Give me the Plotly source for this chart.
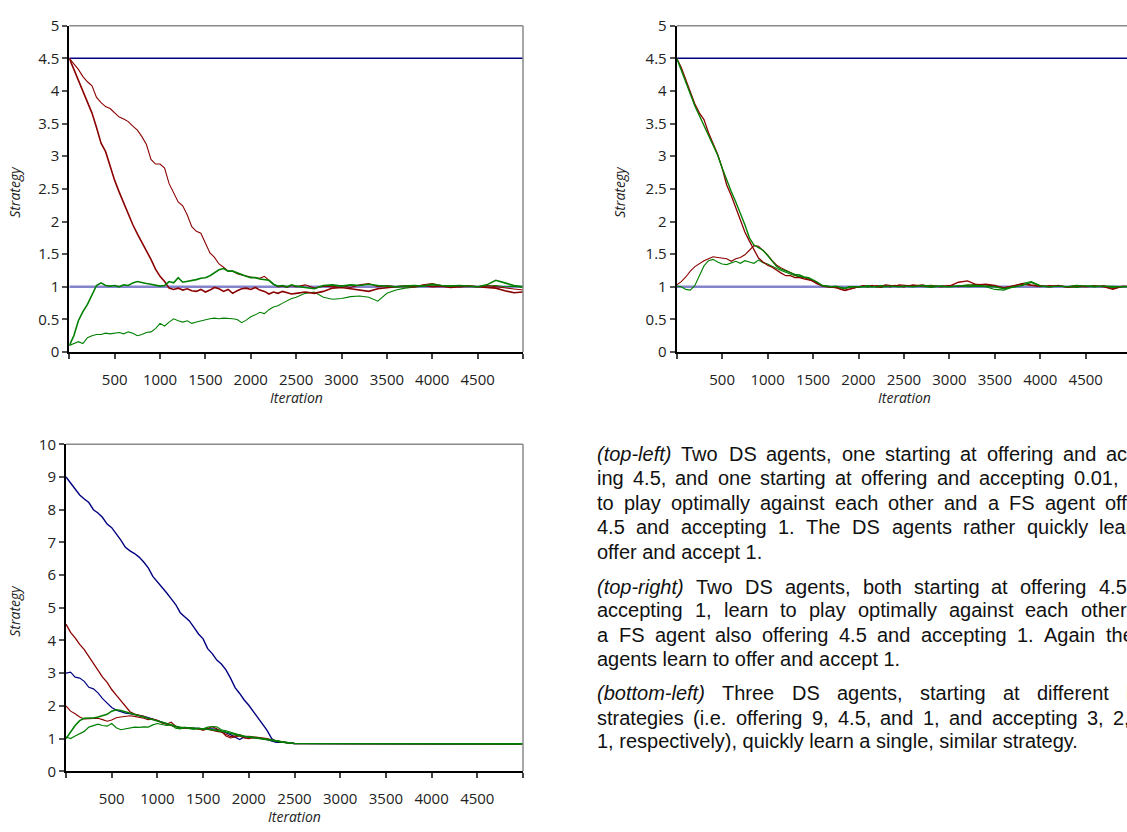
import plotly.graph_objects as go

W, H = 1127, 832

# ---------------- data ----------------
ITER = list(range(0, 2501, 50)) + list(range(2600, 5001, 100))
ITER_BL = list(range(0, 2501, 50)) + [5000]

FS_X = [0, 5000]
FS_OFFER = 4.5
FS_ACCEPT = 1.0

# top-left
TL_RED_FAST = [4.50, 4.33, 4.16, 3.98, 3.82, 3.66, 3.44, 3.20, 3.07, 2.85,
               2.63, 2.45, 2.28, 2.10, 1.95, 1.81, 1.68, 1.56, 1.42, 1.27,
               1.16, 1.08, 0.98, 0.96, 0.98, 0.95, 0.97, 0.94, 0.93, 0.96,
               0.92, 0.95, 0.99, 0.97, 0.93, 0.96, 0.90, 0.94, 0.97, 0.98,
               0.96, 0.99, 0.95, 0.93, 0.89, 0.92, 0.90, 0.93, 0.91, 0.89,
               0.90,
               0.92, 0.90, 0.93, 0.98, 0.99, 0.97, 0.95, 0.93, 0.97, 0.99,
               1.00, 1.01, 1.00, 1.02, 1.00, 1.01, 0.99, 1.00, 1.01, 1.00,
               0.99, 0.98, 0.94, 0.91, 0.92]
TL_RED_SLOW = [4.50, 4.42, 4.33, 4.22, 4.14, 4.08, 3.90, 3.82, 3.76, 3.73,
               3.66, 3.60, 3.57, 3.53, 3.46, 3.40, 3.30, 3.18, 2.95, 2.88,
               2.88, 2.82, 2.58, 2.45, 2.30, 2.24, 2.10, 1.92, 1.85, 1.82,
               1.66, 1.52, 1.45, 1.35, 1.30, 1.24, 1.24, 1.20, 1.18, 1.16,
               1.15, 1.14, 1.13, 1.16, 1.10, 1.04, 1.00, 1.01, 0.99, 1.02,
               1.00,
               1.03, 0.98, 1.01, 1.00, 1.02, 0.99, 1.03, 1.05, 1.00, 1.02,
               1.00, 1.01, 1.00, 1.03, 1.05, 1.02, 1.01, 1.00, 1.01, 1.00,
               1.02, 1.00, 0.98, 0.96, 0.95]
TL_GREEN_FAST = [0.10, 0.25, 0.48, 0.62, 0.73, 0.88, 1.02, 1.06, 1.02, 1.01,
                 1.02, 1.00, 1.03, 1.02, 1.06, 1.08, 1.06, 1.05, 1.04, 1.02,
                 1.01, 1.02, 1.08, 1.06, 1.14, 1.07, 1.08, 1.10, 1.11, 1.13,
                 1.14, 1.17, 1.21, 1.26, 1.28, 1.24, 1.24, 1.21, 1.19, 1.16,
                 1.14, 1.14, 1.12, 1.11, 1.10, 1.04, 1.01, 1.02, 1.00, 1.03,
                 1.01,
                 0.99, 0.97, 1.02, 1.03, 1.01, 1.03, 1.02, 1.04, 1.02, 1.01,
                 1.00, 1.01, 1.02, 1.01, 1.04, 1.02, 1.01, 1.02, 1.01, 1.00,
                 1.03, 1.10, 1.06, 1.02, 1.00]
TL_GREEN_SLOW = [0.10, 0.13, 0.16, 0.13, 0.22, 0.25, 0.27, 0.27, 0.29, 0.28,
                 0.29, 0.30, 0.28, 0.31, 0.29, 0.25, 0.27, 0.30, 0.31, 0.36,
                 0.44, 0.40, 0.46, 0.51, 0.48, 0.46, 0.48, 0.44, 0.46, 0.48,
                 0.49, 0.51, 0.52, 0.51, 0.52, 0.52, 0.51, 0.50, 0.45, 0.49,
                 0.54, 0.57, 0.61, 0.59, 0.65, 0.69, 0.71, 0.75, 0.79, 0.82,
                 0.84,
                 0.90, 0.92, 0.84, 0.81, 0.82, 0.85, 0.86, 0.84, 0.78, 0.90,
                 0.95, 0.98, 1.00, 1.01, 1.03, 1.01, 1.02, 1.00, 1.01, 1.00,
                 1.01, 1.02, 1.00, 1.01, 0.99]

# top-right
TR_RED_DOWN = [4.50, 4.36, 4.17, 3.98, 3.80, 3.66, 3.56, 3.36, 3.19, 3.03,
               2.82, 2.56, 2.40, 2.21, 2.02, 1.84, 1.70, 1.57, 1.44, 1.38,
               1.33, 1.30, 1.25, 1.21, 1.17, 1.17, 1.14, 1.14, 1.12, 1.11,
               1.09, 1.05, 1.01, 1.00, 0.99, 1.00, 0.96, 0.95, 0.97, 0.99,
               1.00, 1.01, 1.00, 1.02, 1.00, 1.00, 1.01, 1.00, 1.02, 1.01,
               1.00,
               1.03, 1.01, 1.02, 1.00, 1.01, 1.07, 1.09, 1.03, 1.04, 1.02,
               0.98, 1.02, 1.05, 1.03, 1.01, 1.00, 1.02, 0.99, 1.01, 1.00,
               1.01, 1.00, 0.96, 1.01, 1.00]
TR_GREEN_DOWN = [4.50, 4.31, 4.12, 3.94, 3.77, 3.62, 3.47, 3.32, 3.18, 3.02,
                 2.82, 2.63, 2.46, 2.30, 2.13, 1.95, 1.75, 1.64, 1.60, 1.56,
                 1.48, 1.39, 1.31, 1.27, 1.24, 1.22, 1.19, 1.18, 1.15, 1.14,
                 1.11, 1.07, 1.02, 1.01, 1.00, 1.01, 0.99, 0.98, 1.00, 1.00,
                 1.01, 1.00, 1.01, 1.00, 1.00, 1.02, 1.00, 1.01, 1.00, 1.00,
                 1.01,
                 1.00, 1.02, 1.01, 1.00, 1.00, 1.01, 1.03, 1.02, 1.01, 1.00,
                 0.97, 1.00, 1.02, 1.07, 1.01, 1.00, 1.01, 1.00, 1.02, 1.01,
                 1.00, 1.01, 1.00, 1.00, 1.01]
TR_RED_UP = [1.03, 1.08, 1.15, 1.24, 1.31, 1.36, 1.40, 1.43, 1.46, 1.45,
             1.44, 1.43, 1.39, 1.43, 1.45, 1.49, 1.56, 1.63, 1.62, 1.56,
             1.49, 1.40, 1.33, 1.29, 1.26, 1.22, 1.18, 1.15, 1.14, 1.12,
             1.08, 1.04, 1.02, 1.01, 1.00, 0.98, 0.97, 0.94, 0.96, 0.99,
             1.00, 1.02, 1.01, 1.00, 1.02, 1.01, 1.03, 1.02, 1.01, 1.03,
             1.02,
             1.01, 1.03, 1.00, 1.01, 1.02, 1.00, 1.02, 1.04, 1.03, 1.01,
             0.99, 1.01, 1.04, 1.02, 1.00, 1.02, 1.01, 1.00, 1.02, 1.01,
             1.00, 1.02, 0.97, 1.00, 1.01]
TR_GREEN_UP = [1.01, 1.00, 0.96, 0.95, 1.02, 1.17, 1.32, 1.40, 1.42, 1.38,
               1.35, 1.34, 1.37, 1.39, 1.36, 1.40, 1.38, 1.36, 1.41, 1.37,
               1.35, 1.31, 1.28, 1.25, 1.22, 1.20, 1.17, 1.16, 1.15, 1.13,
               1.10, 1.06, 1.02, 1.01, 1.00, 0.99, 0.98, 0.97, 0.99, 1.00,
               0.99, 1.00, 1.02, 1.01, 1.00, 0.99, 1.01, 1.00, 1.01, 1.00,
               1.00,
               1.02, 1.00, 0.99, 1.01, 1.00, 1.02, 1.00, 1.01, 1.00, 0.96,
               0.95, 1.00, 1.05, 1.08, 1.02, 1.00, 1.01, 1.00, 0.99, 1.01,
               1.02, 1.00, 0.99, 1.00, 1.00]

# bottom-left
BL_BLUE_HIGH = [9.00, 8.82, 8.65, 8.45, 8.33, 8.22, 8.00, 7.90, 7.76, 7.56,
                7.45, 7.27, 7.07, 6.85, 6.74, 6.66, 6.55, 6.40, 6.22, 5.96,
                5.80, 5.62, 5.46, 5.28, 5.10, 4.85, 4.72, 4.60, 4.40, 4.20,
                4.05, 3.75, 3.60, 3.40, 3.28, 3.10, 2.85, 2.56, 2.38, 2.18,
                2.02, 1.82, 1.62, 1.44, 1.25, 1.00, 0.90, 0.90, 0.88, 0.86,
                0.85, 0.84]
BL_BLUE_LOW = [3.00, 3.03, 2.88, 2.85, 2.75, 2.57, 2.52, 2.40, 2.22, 2.10,
               1.95, 1.87, 1.82, 1.78, 1.76, 1.74, 1.72, 1.68, 1.64, 1.60,
               1.55, 1.50, 1.46, 1.40, 1.36, 1.34, 1.33, 1.33, 1.32, 1.31,
               1.30, 1.31, 1.30, 1.28, 1.24, 1.18, 1.12, 1.05, 0.97, 1.05,
               1.04, 1.03, 1.02, 1.00, 0.97, 0.92, 0.88, 0.89, 0.87, 0.86,
               0.85, 0.84]
BL_RED_HIGH = [4.50, 4.25, 4.08, 3.88, 3.72, 3.50, 3.28, 3.07, 2.88, 2.72,
               2.50, 2.33, 2.17, 1.98, 1.82, 1.75, 1.72, 1.68, 1.62, 1.60,
               1.56, 1.48, 1.44, 1.41, 1.38, 1.33, 1.32, 1.33, 1.31, 1.29,
               1.27, 1.29, 1.25, 1.22, 1.20, 1.14, 1.06, 1.08, 1.12, 1.06,
               1.07, 1.05, 1.04, 1.02, 1.00, 0.96, 0.93, 0.90, 0.88, 0.86,
               0.85, 0.84]
BL_RED_LOW = [2.00, 1.84, 1.76, 1.66, 1.60, 1.61, 1.60, 1.62, 1.58, 1.53,
              1.57, 1.64, 1.66, 1.68, 1.70, 1.68, 1.66, 1.62, 1.58, 1.60,
              1.54, 1.48, 1.44, 1.50, 1.38, 1.34, 1.33, 1.32, 1.31, 1.30,
              1.26, 1.32, 1.36, 1.30, 1.22, 1.08, 1.02, 1.05, 1.08, 1.02,
              1.00, 1.03, 1.02, 1.00, 0.98, 0.95, 0.92, 0.90, 0.88, 0.86,
              0.85, 0.84]
BL_GREEN_HIGH = [1.00, 1.20, 1.40, 1.55, 1.62, 1.63, 1.63, 1.66, 1.70, 1.74,
                 1.84, 1.88, 1.86, 1.82, 1.78, 1.74, 1.70, 1.66, 1.62, 1.58,
                 1.53, 1.48, 1.44, 1.40, 1.36, 1.34, 1.34, 1.33, 1.32, 1.31,
                 1.31, 1.29, 1.27, 1.25, 1.23, 1.20, 1.16, 1.12, 1.09, 1.07,
                 1.05, 1.04, 1.03, 1.01, 0.99, 0.96, 0.93, 0.90, 0.88, 0.86,
                 0.85, 0.84]
BL_GREEN_LOW = [1.05, 1.00, 1.08, 1.15, 1.22, 1.35, 1.40, 1.44, 1.40, 1.38,
                1.46, 1.33, 1.27, 1.30, 1.32, 1.35, 1.34, 1.36, 1.35, 1.42,
                1.46, 1.44, 1.40, 1.42, 1.32, 1.30, 1.34, 1.30, 1.28, 1.32,
                1.30, 1.35, 1.37, 1.36, 1.27, 1.24, 1.20, 1.14, 1.10, 1.07,
                1.06, 1.04, 1.03, 1.02, 0.99, 0.96, 0.93, 0.90, 0.88, 0.86,
                0.85, 0.84]

X_TICKVALS = list(range(0, 5001, 500))
X_TICKTEXT = [""] + [str(v) for v in range(500, 4501, 500)] + [""]
Y_TICKS_TOP = [0, 0.5, 1, 1.5, 2, 2.5, 3, 3.5, 4, 4.5, 5]
Y_TICKS_BL = list(range(0, 11))

# caption lines: (italic lead, rest of line, justified?)
CAPTION_PARAS = [
    [("(top-left)", "Two DS agents, one starting at offering and accept-", True),
     ("", "ing 4.5, and one starting at offering and accepting 0.01, learn", True),
     ("", "to play optimally against each other and a FS agent offering", True),
     ("", "4.5 and accepting 1. The DS agents rather quickly learn to", True),
     ("", "offer and accept 1.", False)],
    [("(top-right)", "Two DS agents, both starting at offering 4.5 and", True),
     ("", "accepting 1, learn to play optimally against each other and", True),
     ("", "a FS agent also offering 4.5 and accepting 1. Again the DS", True),
     ("", "agents learn to offer and accept 1.", False)],
    [("(bottom-left)", "Three DS agents, starting at different initial", True),
     ("", "strategies (i.e. offering 9, 4.5, and 1, and accepting 3, 2, and", True),
     ("", "1, respectively), quickly learn a single, similar strategy.", False)],
]
CAPTION_Y = [[454, 479, 504, 529, 554], [590, 614, 639, 664], [699, 724, 748]]

# ---------------- styling ----------------
RED = "#8b0000"
GREEN = "#008000"
BLUE = "#000080"
FS_ONE = "#8484cc"
TICKFONT = dict(family="Open Sans", size=15, color="#222222")
TITLEFONT = dict(family="Open Sans", size=14, color="#222222")
CAPFONT = dict(family="Liberation Sans", size=20, color="#111111")
CAP_SIZE = 20
CAP_X0 = 597.0      # left edge of caption text (px)
CAP_R = 1172.0      # right margin of the justified column (px, beyond view)
ANN_PAD = 2.0       # annotation box padding before glyphs

# Arial / Liberation Sans advance widths (1/1000 em)
AW = {' ': 278, '(': 333, ')': 333, ',': 278, '-': 333, '.': 278, ':': 278,
      '0': 556, '1': 556, '2': 556, '3': 556, '4': 556, '5': 556, '6': 556,
      '7': 556, '8': 556, '9': 556,
      'A': 667, 'B': 667, 'C': 722, 'D': 722, 'E': 667, 'F': 611, 'G': 778,
      'H': 722, 'I': 278, 'J': 500, 'K': 667, 'L': 556, 'M': 833, 'N': 722,
      'O': 778, 'P': 667, 'Q': 778, 'R': 722, 'S': 667, 'T': 611, 'U': 722,
      'V': 667, 'W': 944, 'X': 667, 'Y': 667, 'Z': 611,
      'a': 556, 'b': 556, 'c': 500, 'd': 556, 'e': 556, 'f': 278, 'g': 556,
      'h': 556, 'i': 222, 'j': 222, 'k': 500, 'l': 222, 'm': 833, 'n': 556,
      'o': 556, 'p': 556, 'q': 556, 'r': 333, 's': 500, 't': 278, 'u': 556,
      'v': 500, 'w': 722, 'x': 500, 'y': 500, 'z': 500}


def text_width(s):
    return sum(AW.get(c, 556) for c in s) * CAP_SIZE / 1000.0


def px_x(p):
    return p / W


def px_y(p):
    return 1 - p / H


fig = go.Figure()


def line(x, y, color, width, xa, ya):
    fig.add_trace(go.Scatter(x=x, y=y, mode="lines", xaxis=xa, yaxis=ya,
                             line=dict(color=color, width=width),
                             showlegend=False, hoverinfo="skip"))


# top-left
line(FS_X, [FS_OFFER, FS_OFFER], BLUE, 1.5, "x", "y")
line(FS_X, [FS_ACCEPT, FS_ACCEPT], FS_ONE, 2.5, "x", "y")
line(ITER, TL_GREEN_SLOW, GREEN, 1.1, "x", "y")
line(ITER, TL_RED_SLOW, RED, 1.1, "x", "y")
line(ITER, TL_RED_FAST, RED, 1.6, "x", "y")
line(ITER, TL_GREEN_FAST, GREEN, 1.6, "x", "y")

# top-right
line(FS_X, [FS_OFFER, FS_OFFER], BLUE, 1.5, "x2", "y2")
line(FS_X, [FS_ACCEPT, FS_ACCEPT], FS_ONE, 2.5, "x2", "y2")
line(ITER, TR_RED_UP, RED, 1.1, "x2", "y2")
line(ITER, TR_GREEN_UP, GREEN, 1.1, "x2", "y2")
line(ITER, TR_RED_DOWN, RED, 1.3, "x2", "y2")
line(ITER, TR_GREEN_DOWN, GREEN, 1.4, "x2", "y2")

# bottom-left
line(ITER_BL, BL_BLUE_HIGH, BLUE, 1.4, "x3", "y3")
line(ITER_BL, BL_BLUE_LOW, BLUE, 1.2, "x3", "y3")
line(ITER_BL, BL_RED_HIGH, RED, 1.3, "x3", "y3")
line(ITER_BL, BL_RED_LOW, RED, 1.1, "x3", "y3")
line(ITER_BL, BL_GREEN_LOW, GREEN, 1.2, "x3", "y3")
line(ITER_BL, BL_GREEN_HIGH, GREEN, 1.6, "x3", "y3")

# panel geometry in pixels
TL = dict(x0=69.3, x1=523.0, y0=15.0, y1=349.5, xmax=5000)
TR = dict(x0=676.7, x1=1127.0, y0=15.0, y1=349.5, xmax=5000 * (1127.0 - 676.7) / 454.5)
BL = dict(x0=66.0, x1=523.0, y0=444.0, y1=779.0, xmax=5000)


def xaxis_cfg(p, anchor):
    return dict(domain=[px_x(p["x0"]), px_x(p["x1"])], anchor=anchor,
                range=[0, p["xmax"]], tickmode="array", tickvals=X_TICKVALS,
                ticktext=X_TICKTEXT, ticks="outside", ticklen=5, tickwidth=1.5,
                tickcolor="#444444", showline=True, linecolor="#000000",
                linewidth=2, showgrid=False, zeroline=False, tickfont=TICKFONT,
                ticklabelstandoff=8, fixedrange=True)


def yaxis_cfg(p, anchor, ticks, rng):
    return dict(domain=[px_y(p["y1"]), px_y(p["y0"])], anchor=anchor,
                range=rng, tickmode="array", tickvals=ticks,
                ticks="outside", ticklen=5, tickwidth=1.5, tickcolor="#555555",
                showline=True, linecolor="#000000", linewidth=2,
                showgrid=False, zeroline=False, tickfont=TICKFONT,
                fixedrange=True)


fig.update_layout(
    width=W, height=H, margin=dict(l=0, r=0, t=0, b=0),
    paper_bgcolor="white", plot_bgcolor="white", showlegend=False,
    xaxis=xaxis_cfg(TL, "y"), yaxis=yaxis_cfg(TL, "x", Y_TICKS_TOP, [0, 5]),
    xaxis2=xaxis_cfg(TR, "y2"), yaxis2=yaxis_cfg(TR, "x2", Y_TICKS_TOP, [0, 5]),
    xaxis3=xaxis_cfg(BL, "y3"), yaxis3=yaxis_cfg(BL, "x3", Y_TICKS_BL, [0, 10]),
)

# grey top/right borders
shapes = []
for p, has_right in ((TL, True), (TR, False), (BL, True)):
    shapes.append(dict(type="line", xref="paper", yref="paper",
                       x0=px_x(p["x0"]), x1=px_x(p["x1"]),
                       y0=px_y(p["y0"]), y1=px_y(p["y0"]),
                       line=dict(color="#8a8a8a", width=1.5)))
    if has_right:
        shapes.append(dict(type="line", xref="paper", yref="paper",
                           x0=px_x(p["x1"]), x1=px_x(p["x1"]),
                           y0=px_y(p["y0"]), y1=px_y(p["y1"]),
                           line=dict(color="#8a8a8a", width=1.5)))
fig.update_layout(shapes=shapes)

ann = []
# axis titles
for p, cx, cy_t, ylab_x in ((TL, 296, 396, 15), (TR, 904, 396, 620), (BL, 294.5, 825, 15)):
    ann.append(dict(text="<i>Iteration</i>", x=px_x(cx), y=px_y(cy_t),
                    xref="paper", yref="paper", showarrow=False,
                    xanchor="center", yanchor="middle", font=TITLEFONT))
    ann.append(dict(text="<i>Strategy</i>", x=px_x(ylab_x), y=px_y((p["y0"] + p["y1"]) / 2 + 3),
                    xref="paper", yref="paper", showarrow=False, textangle=-90,
                    xanchor="center", yanchor="middle", font=TITLEFONT))

# caption (justified like the original column)
for para, ys in zip(CAPTION_PARAS, CAPTION_Y):
    for (lead, rest, justify), yc in zip(para, ys):
        words = ([("<i>" + lead + "</i>", text_width(lead))] if lead else []) + \
                [(w, text_width(w)) for w in rest.split()]
        if justify:
            total = sum(w for _, w in words)
            gap = (CAP_R - CAP_X0 - total) / (len(words) - 1)
            xpos = CAP_X0
            for txt, wd in words:
                if xpos < W:
                    ann.append(dict(text=txt, x=px_x(xpos - ANN_PAD), y=px_y(yc),
                                    xref="paper", yref="paper", showarrow=False,
                                    xanchor="left", yanchor="middle", font=CAPFONT))
                xpos += wd + gap
        else:
            txt = " ".join(t for t, _ in words)
            ann.append(dict(text=txt, x=px_x(CAP_X0 - ANN_PAD), y=px_y(yc),
                            xref="paper", yref="paper", showarrow=False,
                            xanchor="left", yanchor="middle", align="left",
                            font=CAPFONT))
fig.update_layout(annotations=ann)

fig.write_html("out.html")
